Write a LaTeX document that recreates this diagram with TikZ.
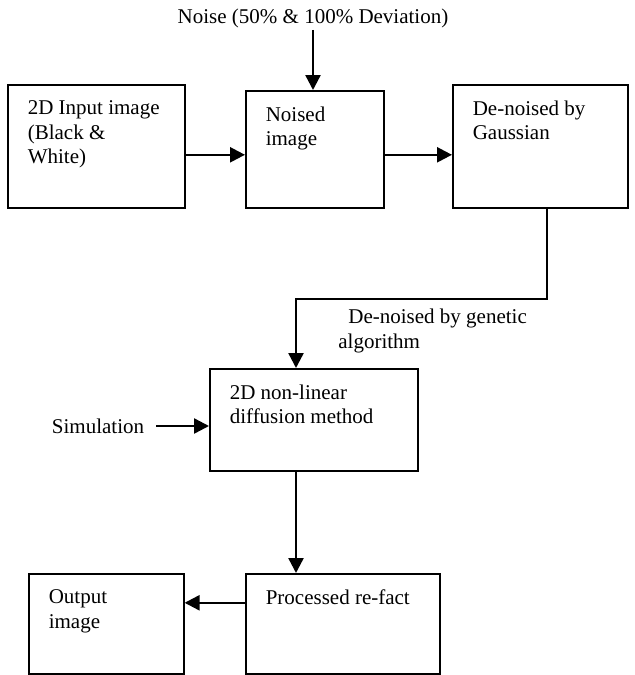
\documentclass[tikz,border=0pt]{standalone}
\usepackage{fontspec}
\setmainfont{Liberation Serif}
\usetikzlibrary{positioning, arrows.meta, calc}

\tikzset{
	block/.style={draw, line width=0.8pt, anchor=north west, inner xsep=10pt, inner ysep=8pt, align=left},
	flow/.style={-{Triangle[length=7.5pt,width=7.5pt]}, line width=1.2pt}
}
\newcommand{\blocktext}[3]{\parbox[c][#2][t]{#1}{\raggedright #3}}

\begin{document}
\begin{tikzpicture}[x=0.5pt, y=-0.5pt, font=\fontsize{10.5}{12.3}\selectfont]
		
		\useasboundingbox (0,0) rectangle (634,675);
		
		%blocchi del diagramma
		\node (inputImg) at (7,84) [block] {\blocktext{68.5pt}{45.5pt}{2D Input image\\(Black \&\\White)}};
		
		\node (noisedImg) at (245,90) [block] {\blocktext{49pt}{42.5pt}{Noised\\image}};
		
		\node (gaussian) at (452,84) [block] {\blocktext{67.5pt}{45.5pt}{De-noised by\\Gaussian}};
		
		\node (diffusion) at (209,368) [block] {\blocktext{84pt}{35pt}{2D non-linear\\diffusion method}};
		
		\node (processed) at (245,573) [block] {\blocktext{77pt}{34pt}{Processed re-fact}};
		
		\node (output) at (28,573) [block] {\blocktext{57.5pt}{34pt}{Output\\image}};
		
		%testi esterni
		\node (noise) at (313,18) [inner ysep=1pt] {Noise (50\% \& 100\% Deviation)};
		
		\node (simulation) at (98,426) [inner xsep=6pt] {Simulation};
		
		\node (genetic) at (338,309) [anchor=north west, inner sep=0pt, align=left] {\hspace*{5pt}De-noised by genetic\\algorithm};
		
		\coordinate (bendA) at (547,299);
		\coordinate (bendB) at (296,299);
		
		%frecce
		\draw[flow] (noise.south) -- (noise.south |- noisedImg.north);
		\draw[flow] ([yshift=-4.25pt]inputImg.east) -- ([yshift=-4.25pt]inputImg.east -| noisedImg.west);
		\draw[flow] ([yshift=-4.25pt]noisedImg.east |- gaussian.east) -- ([yshift=-4.25pt]gaussian.west);
		\draw[flow] (gaussian.south -| bendA) -- (bendA) -- (bendB) -- (bendB |- diffusion.north);
		\draw[flow] (simulation.east) -- (simulation.east -| diffusion.west);
		\draw[flow] (diffusion.south -| bendB) -- (bendB |- processed.north);
		\draw[flow] ([yshift=10.5pt]processed.west) -- ([yshift=10.5pt]output.east);
		
\end{tikzpicture}
\end{document}
